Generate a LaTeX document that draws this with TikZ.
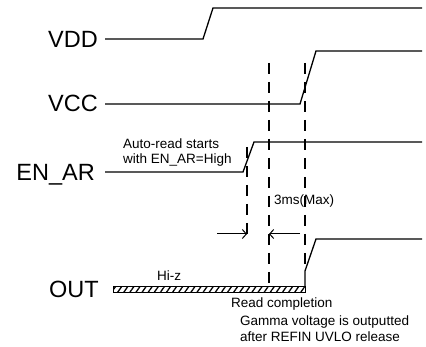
\documentclass[tikz,border=0pt]{standalone}
\usepackage{fontspec}
\setmainfont{Liberation Sans}
\usetikzlibrary{arrows.meta,patterns.meta}
\begin{document}
\begin{tikzpicture}[x=1pt,y=-1pt,
  sig/.style={line width=1.3pt, line join=miter},
  guide/.style={line width=1.2pt, dash pattern=on 11pt off 8pt},
  big/.style={font=\fontsize{23.5}{28}\selectfont, inner sep=0pt, anchor=base east},
  small/.style={font=\fontsize{13.5}{16}\selectfont, inner sep=0pt, anchor=base west},
  dim/.style={line width=1pt, -{Straight Barb[length=4pt,width=9pt]}}]
\useasboundingbox (0,0) rectangle (426,347);
% labels
\node[big] (lvdd) at (98,47.5) {VDD};
\node[big] (lvcc) at (98,112) {VCC};
\node[big] (len) at (95,180.5) {EN\_AR};
\node[big] (lout) at (99,298) {OUT};
% signals
\draw[sig] (105,39) -- (203,39) -- (213,8) -- (422,8);
\draw[sig] (105,104) -- (300,104) -- (316,51) -- (422,51);
\draw[sig] (105,172) -- (243,172) -- (254,142) -- (422,142);
\draw[line width=1pt, pattern={Lines[angle=55,distance=5pt,line width=1.3pt]}] (113,287) rectangle (305,293);
\draw[sig] (305,287) -- (305,271) -- (316,239) -- (422,239);
% guides
\draw[guide] (247,147) -- (247,242);
\draw[guide] (269,63) -- (269,283);
\draw[guide] (305,63) -- (305,271);
% dimension
\draw[dim] (217,234) -- (247,234);
\draw[dim] (300,234) -- (269,234);
% texts
\node[small] (t1) at (123,148.5) {Auto-read starts};
\node[small] (t2) at (123,164) {with EN\_AR=High};
\node[small] (t3) at (274,205) {3ms(Max)};
\node[small] (t4) at (157,281) {Hi-z};
\node[small] (t5) at (231,308) {Read completion};
\node[small] (t6) at (240,326) {Gamma voltage is outputted};
\node[small] (t7) at (240,342) {after REFIN UVLO release};
\end{tikzpicture}
\end{document}
